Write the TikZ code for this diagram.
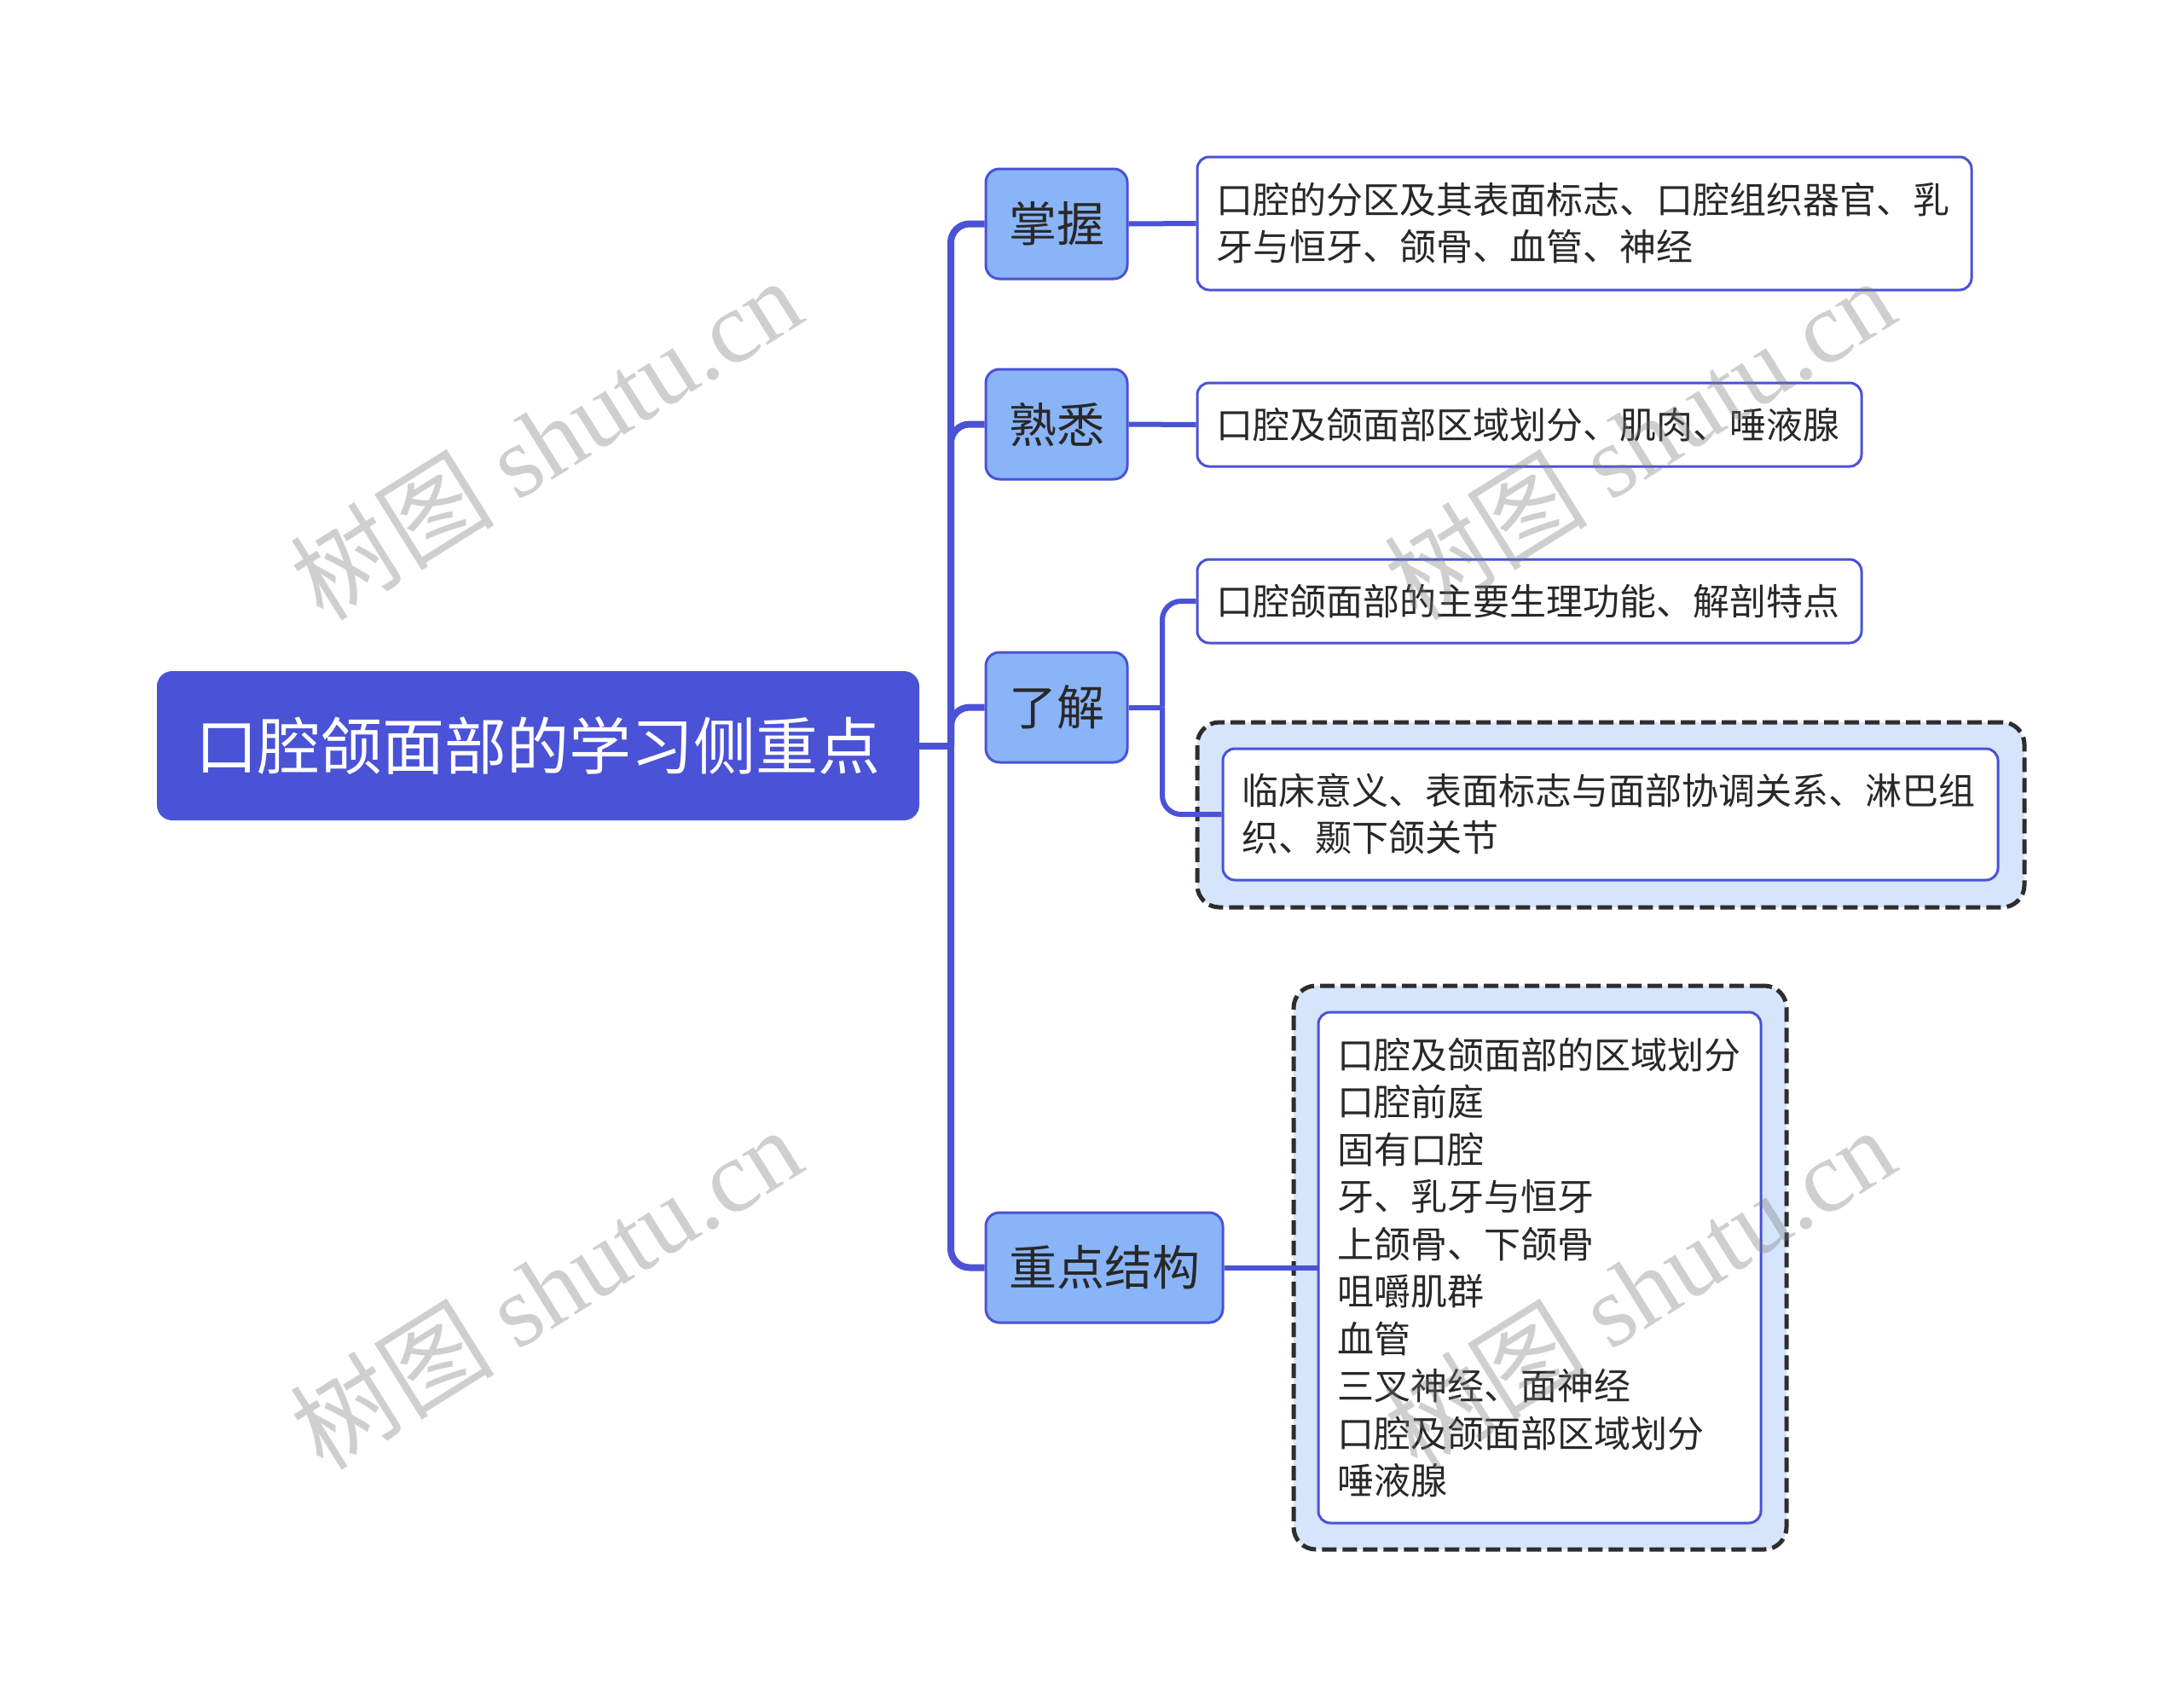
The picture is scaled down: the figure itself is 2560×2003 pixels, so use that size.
\documentclass[tikz,border=0pt]{standalone}
\usepackage{fontspec}
\newfontfamily\cjk{Noto Sans CJK SC}
\newfontfamily\wmlat{Liberation Serif}
\definecolor{mainblue}{RGB}{74,82,214}
\definecolor{branchfill}{RGB}{138,180,248}
\definecolor{dashfill}{RGB}{214,228,252}
\definecolor{txt}{RGB}{40,40,40}
\definecolor{dashcol}{RGB}{45,45,45}
\definecolor{wmgray}{RGB}{120,120,120}
\begin{document}
\begin{tikzpicture}[x=0.5pt,y=-0.5pt,
 mainnode/.style={fill=mainblue, draw=none, rounded corners=9pt, minimum width=447pt, minimum height=87.5pt, text=white, font=\cjk\fontsize{36.5pt}{44pt}\selectfont, inner sep=0pt},
 branch/.style={fill=branchfill, draw=mainblue, line width=1.5pt, rounded corners=8pt, minimum height=64.5pt, text=txt, font=\cjk\fontsize{28pt}{34pt}\selectfont, inner sep=0pt},
 leaf/.style={fill=white, draw=mainblue, line width=1.5pt, rounded corners=7pt, text=txt, font=\cjk\fontsize{21.5pt}{27.5pt}\selectfont, align=left, inner xsep=11pt, inner ysep=0pt},
 dashbox/.style={fill=dashfill, draw=dashcol, line width=2.5pt, dash pattern=on 8.5pt off 3.5pt, rounded corners=13pt, inner sep=0pt},
 conn/.style={draw=mainblue, line width=4pt, rounded corners=11pt},
 subconn/.style={draw=mainblue, line width=3pt, rounded corners=11pt},
 wm/.style={text=wmgray, text opacity=0.35, rotate=32, inner sep=0pt}
]
\fill[white] (0,0) rectangle (2560,2003);
\useasboundingbox (0,0) rectangle (2560,2003);

% main
\node[mainnode] (main) at (631,874.5) {口腔颌面部的学习侧重点};

% branches
\node[branch, minimum width=83pt] (B1) at (1239,262.5) {掌握};
\node[branch, minimum width=83pt] (B2) at (1239,497.5) {熟悉};
\node[branch, minimum width=83pt] (B3) at (1239,829.5) {了解};
\node[branch, minimum width=139pt] (B4) at (1295,1486.5) {重点结构};

% leaves
\node[leaf, text width=432pt, minimum height=78pt] (L1) at (1858,262)
  {口腔的分区及其表面标志、口腔组织器官、乳\\牙与恒牙、颌骨、血管、神经};
\node[leaf, text width=367.5pt, minimum height=49pt] (L2) at (1793.5,498)
  {口腔及颌面部区域划分、肌肉、唾液腺};
\node[leaf, text width=367.5pt, minimum height=49pt] (L3) at (1793.5,705)
  {口腔颌面部的主要生理功能、解剖特点};

\node[dashbox, minimum width=485pt, minimum height=108.5pt] (L4o) at (1889,955.5) {};
\node[leaf, text width=432.5pt, minimum height=77pt] (L4i) at (1888.5,955)
  {临床意义、表面标志与面部协调关系、淋巴组\\织、颞下颌关节};

\node[dashbox, minimum width=289pt, minimum height=330.5pt] (L5o) at (1806,1486.5) {};
\node[leaf, text width=237.5pt, minimum height=299.5pt, font=\cjk\fontsize{21.5pt}{27.75pt}\selectfont] (L5i) at (1805.5,1486.5)
  {口腔及颌面部的区域划分\\口腔前庭\\固有口腔\\牙、乳牙与恒牙\\上颌骨、下颌骨\\咀嚼肌群\\血管\\三叉神经、面神经\\口腔及颌面部区域划分\\唾液腺};

% connectors
\coordinate (J) at (1115,874.5);
\draw[conn, rounded corners=0pt] (main.east) -- (J);
\foreach \b in {B1,B2,B3,B4} { \draw[conn] (J) |- (\b.west); }

\draw[subconn] (B1.east) -- (L1.west);
\draw[subconn] (B2.east) -- (L2.west);
\coordinate (K) at (1363,829.5);
\draw[subconn, rounded corners=0pt] (B3.east) -- (K);
\draw[subconn] (K) |- (L3.west);
\draw[subconn] (K) |- (L4i.west);
\draw[subconn] (B4.east) -- (L5i.west);

% watermarks
\foreach \p/\n in {{(640,514)}/w1,{(1922,514)}/w2,{(640,1510)}/w3,{(1922,1510)}/w4} {
  \node[wm] (\n) at \p {\fontsize{60pt}{64pt}\cjk 树图 \wmlat shutu.cn};
}
\end{tikzpicture}
\end{document}
